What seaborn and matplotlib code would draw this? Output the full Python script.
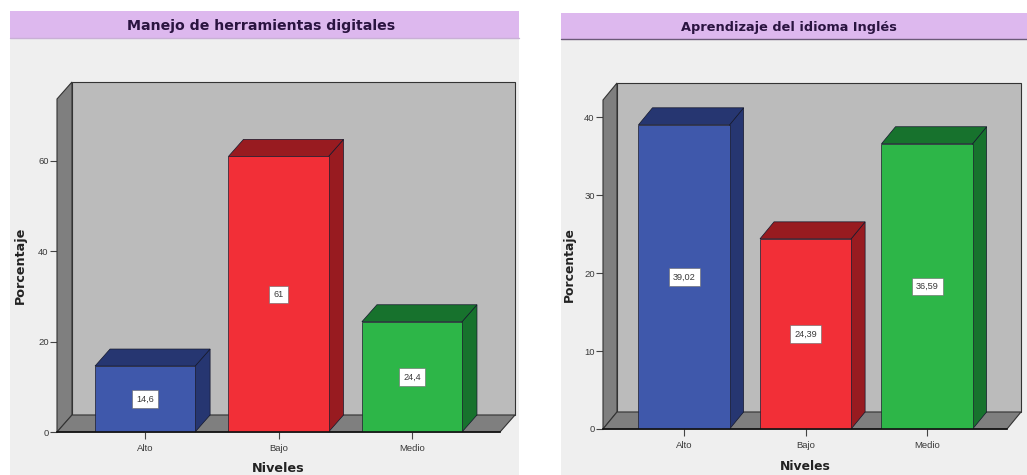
import matplotlib
matplotlib.use("Agg")
import matplotlib.pyplot as plt
from matplotlib.patches import Polygon, Rectangle
import pandas as pd
import seaborn as sns

niveles = ["Alto", "Bajo", "Medio"]
herramientas = [14.6, 61.0, 24.4]
herramientas_labels = ["14,6", "61", "24,4"]
ingles = [39.02, 24.39, 36.59]
ingles_labels = ["39,02", "24,39", "36,59"]
title_left = "Manejo de herramientas digitales"
title_right = "Aprendizaje del idioma Inglés"

W, H = 1027, 475
sns.set_theme(style="white")
plt.rcParams["font.family"] = ["Liberation Sans", "DejaVu Sans"]
fig = plt.figure(figsize=(W / 100, H / 100), dpi=100, facecolor="white")

FRONT = ["#3F58AB", "#F22F37", "#2DB648"]
SIDE = ["#263671", "#981B20", "#17722D"]
TOP = ["#263671", "#981B20", "#17722D"]
TXT = "#3a3a3a"
WIDE = ["DejaVu Sans"]


def px_rect(x0, x1, y0, y1):
    return [x0 / W, 1 - y1 / H, (x1 - x0) / W, (y1 - y0) / H]


def panel(x0, x1, band_top, band_bot, title, line, title_x, title_y, title_size):
    fig.add_artist(Rectangle((x0 / W, 0), (x1 - x0) / W, 1 - band_top / H,
                             transform=fig.transFigure, fc="#EFEFEF", ec="none", zorder=-3))
    fig.add_artist(Rectangle((x0 / W, 1 - band_bot / H), (x1 - x0) / W, (band_bot - band_top) / H,
                             transform=fig.transFigure, fc="#DDB8EE", ec="none", zorder=-2))
    fig.add_artist(plt.Line2D([x0 / W, x1 / W], [1 - band_bot / H] * 2,
                              transform=fig.transFigure, color=line, lw=1, zorder=-1))
    fig.text(title_x / W, 1 - title_y / H, title, family=WIDE,
             ha="center", va="center", fontsize=title_size, fontweight="bold", color="#2A1440")


def chart(rect, ymax, values, labels, yticks, dx_px, dy_px, ylabel_x, ylabel_y, xlabel_y, xlim,
          label_size):
    ax = fig.add_axes(px_rect(*rect))
    ax.patch.set_alpha(0)
    df = pd.DataFrame({"Niveles": niveles, "Porcentaje": values})
    sns.barplot(data=df, x="Niveles", y="Porcentaje", hue="Niveles", palette=FRONT,
                order=niveles, hue_order=niveles, legend=False, width=0.75, saturation=1,
                edgecolor="#1c1c2c", linewidth=0.5, ax=ax, zorder=5)
    ax.set_xlim(*xlim)
    ax.set_ylim(0, ymax)
    w_px = rect[1] - rect[0]
    h_px = rect[3] - rect[2]
    dx = dx_px / w_px * (xlim[1] - xlim[0])
    dy = dy_px / h_px * ymax
    xa, xb = xlim

    def poly(pts, fc, z, ec="#333333", lw=0.8):
        ax.add_patch(Polygon(pts, closed=True, fc=fc, ec=ec, lw=lw, clip_on=False, zorder=z))

    poly([(xa + dx, dy), (xb + dx, dy), (xb + dx, ymax + dy), (xa + dx, ymax + dy)], "#BBBBBB", 1)
    poly([(xa, 0), (xa + dx, dy), (xa + dx, ymax + dy), (xa, ymax)], "#7F7F7F", 2)
    poly([(xa, 0), (xb, 0), (xb + dx, dy), (xa + dx, dy)], "#7F7F7F", 2)

    for i, bar in enumerate(ax.patches[:3]):
        x0 = bar.get_x()
        x1 = x0 + bar.get_width()
        v = bar.get_height()
        poly([(x1, 0), (x1 + dx, dy), (x1 + dx, v + dy), (x1, v)], SIDE[i], 4, "#14182c", 0.5)
        poly([(x0, v), (x1, v), (x1 + dx, v + dy), (x0 + dx, v + dy)], TOP[i], 4, "#14182c", 0.5)
        ax.text(i, v / 2, labels[i], ha="center", va="center", fontsize=6.6, color=TXT, zorder=7,
                bbox=dict(boxstyle="square,pad=0.45", fc="white", ec="#666666", lw=0.4))

    for s in ("top", "right", "left"):
        ax.spines[s].set_visible(False)
    ax.spines["bottom"].set_color("#111111")
    ax.spines["bottom"].set_linewidth(1.2)
    ax.spines["bottom"].set_zorder(6)
    ax.set_yticks(yticks)
    ax.tick_params(axis="both", which="major", left=True, bottom=True, length=5, width=0.8,
                   color="#444444", labelsize=6.8, labelcolor=TXT)
    ax.tick_params(axis="x", pad=3.5)
    ax.tick_params(axis="y", pad=1)
    ax.set_xlabel("")
    ax.set_ylabel("")
    fig.text(ylabel_x / W, 1 - ylabel_y / H, "Porcentaje", rotation=90, family=WIDE,
             ha="center", va="center", fontsize=label_size, fontweight="bold", color="#222222")
    fig.text((rect[0] + rect[1]) / 2 / W, 1 - xlabel_y / H, "Niveles", family=WIDE,
             ha="center", va="center", fontsize=label_size, fontweight="bold", color="#222222")


panel(10, 519, 11, 38, title_left, "#C9B0D6", 261, 26, 10.2)
panel(561, 1027, 13, 39, title_right, "#6B5A78", 789, 28, 9.3)

chart((57, 500, 99, 432), 73.7, herramientas, herramientas_labels, [0, 20, 40, 60],
      15, 17, 20, 265, 468, (-0.66, 2.66), 9.2)
chart((603, 1007, 100, 429), 42.2, ingles, ingles_labels, [0, 10, 20, 30, 40],
      14, 17, 569, 265, 467, (-0.667, 2.658), 8.9)

fig.savefig("out.png", dpi=100, facecolor="white")
